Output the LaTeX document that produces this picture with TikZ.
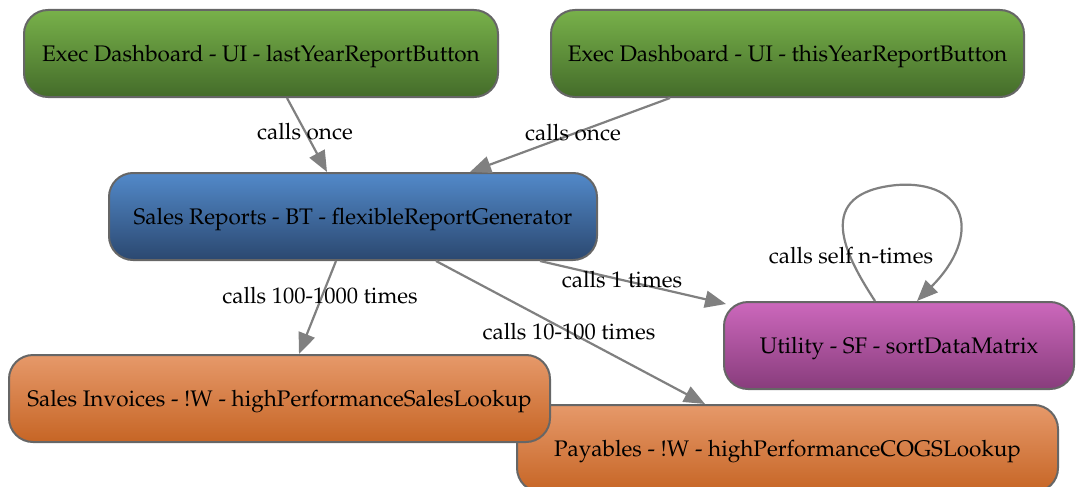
\documentclass[tikz,border=0pt]{standalone}
\usepackage[T1]{fontenc}
\usepackage{mathpazo}
\usetikzlibrary{arrows.meta,calc}

\definecolor{edgegray}{HTML}{808080}
\definecolor{boxline}{HTML}{666666}

\tikzset{
  fnbox/.style={draw=boxline, line width=2pt, rounded corners=24pt,
    minimum height=87pt, inner sep=0pt, text=black,
    text height=16pt, text depth=0pt,
    font=\fontsize{22.5}{27}\selectfont},
  calls/.style={draw=edgegray, line width=2.2pt,
    -{Triangle[length=21pt,width=17pt]}},
  lbl/.style={font=\fontsize{22.5}{27}\selectfont, inner sep=1pt}
}

\begin{document}
\begin{tikzpicture}[x=1pt,y=-1pt]

\useasboundingbox (0,0) rectangle (1076,487);

% Exec Dashboard
\node[fnbox, top color={rgb,255:red,120;green,177;blue,74},
  bottom color={rgb,255:red,68;green,108;blue,42},
  minimum width=474pt] (last) at (261,53.5)
  {Exec Dashboard - UI - lastYearReportButton};
\node[fnbox, top color={rgb,255:red,120;green,177;blue,74},
  bottom color={rgb,255:red,68;green,108;blue,42},
  minimum width=473pt] (this) at (787.5,53.5)
  {Exec Dashboard - UI - thisYearReportButton};

% Sales Reports
\node[fnbox, top color={rgb,255:red,82;green,137;blue,201},
  bottom color={rgb,255:red,43;green,72;blue,112},
  minimum width=488pt] (gen) at (353,216.5)
  {Sales Reports - BT - flexibleReportGenerator};

% Utility
\node[fnbox, top color={rgb,255:red,204;green,104;blue,188},
  bottom color={rgb,255:red,136;green,60;blue,124},
  minimum width=350pt] (util) at (899,345.5)
  {Utility - SF - sortDataMatrix};

% Lookups
\node[fnbox, top color={rgb,255:red,230;green,153;blue,106},
  bottom color={rgb,255:red,198;green,101;blue,37},
  minimum width=541pt] (pay) at (787.5,448.5)
  {Payables - !W - highPerformanceCOGSLookup};
\node[fnbox, top color={rgb,255:red,230;green,153;blue,106},
  bottom color={rgb,255:red,198;green,101;blue,37},
  minimum width=541pt] (inv) at (279.5,398.5)
  {Sales Invoices - !W - highPerformanceSalesLookup};

% calls
\draw[calls] ($(last.south)+(26,0)$) -- ($(gen.north)+(-26,0)$);
\draw[calls] ($(this.south)+(-117.5,0)$) -- ($(gen.north)+(117,0)$);
\draw[calls] ($(gen.south)+(187,0)$) -- ($(util.north west)+(3,3)$);
\draw[calls] ($(gen.south)+(-17,0)$) -- ($(inv.north)+(19.5,0)$);
\draw[calls] ($(gen.south)+(83,0)$) -- ($(pay.north)+(-82.5,0)$);
\draw[calls] ($(util.north)+(-24,0)$)
  .. controls (845,255) and (812,193) .. (897,185)
  .. controls (968,180) and (982,236) .. ($(util.north)+(18,0)$);

\node[lbl] (l1) at (305,132) {calls once};
\node[lbl] (l2) at (573,133) {calls once};
\node[lbl] (l3) at (622,280) {calls 1 times};
\node[lbl] (l4) at (320,296) {calls 100-1000 times};
\node[lbl] (l5) at (569,332) {calls 10-100 times};
\node[lbl] (l6) at (851,256) {calls self n-times};

\end{tikzpicture}
\end{document}
